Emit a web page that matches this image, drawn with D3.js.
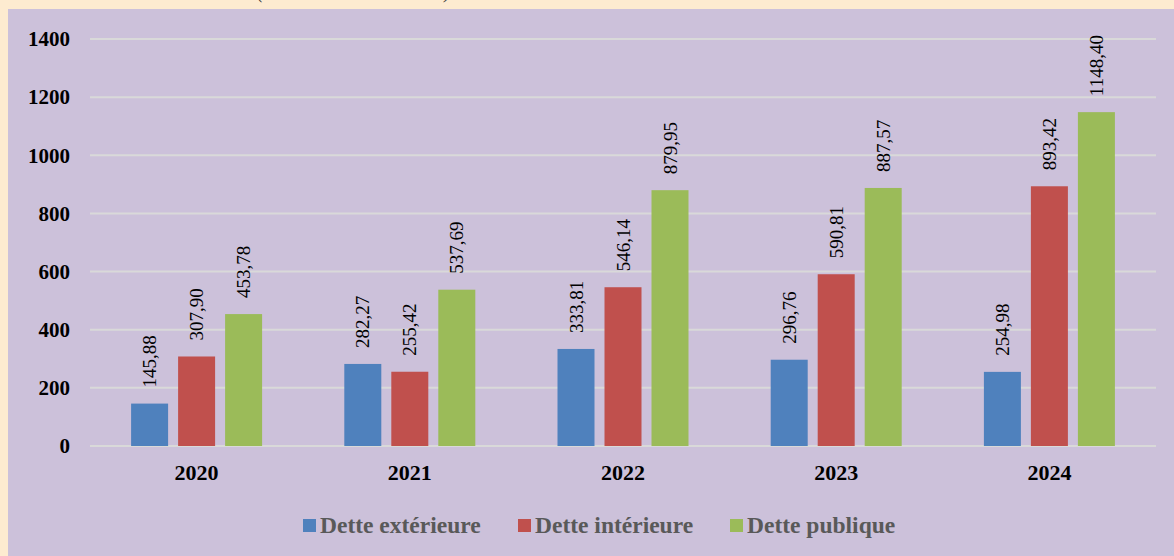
<!DOCTYPE html>
<html>
<head>
<meta charset="utf-8">
<script src="https://cdn.jsdelivr.net/npm/d3@7"></script>
<style>
  html, body { margin: 0; padding: 0; background: #FDEBD0; }
  svg { display: block; }
</style>
</head>
<body>
<svg id="chart" width="1174" height="556"></svg>
<script>
// Data
var years = ['2020', '2021', '2022', '2023', '2024'];
var seriesNames = ['Dette extérieure', 'Dette intérieure', 'Dette publique'];
var exterieure = [145.88, 282.27, 333.81, 296.76, 254.98];
var interieure = [307.90, 255.42, 546.14, 590.81, 893.42];
var publique = [453.78, 537.69, 879.95, 887.57, 1148.40];
var yTicks = [0, 200, 400, 600, 800, 1000, 1200, 1400];

var colors = ['#4F81BD', '#C0504D', '#9BBB59'];
var serif = '"Liberation Serif", "Times New Roman", serif';

var width = 1174;
var height = 556;
var svg = d3.select('#chart');

// Beige page, purple chart area
svg.append('rect')
    .attr('width', width).attr('height', height)
    .attr('fill', '#FDEBD0');

// Caption cut off at the top of the picture
svg.append('text')
    .attr('x', 257).attr('y', -2)
    .attr('textLength', 194)
    .attr('font-family', serif)
    .attr('font-style', 'italic')
    .attr('font-size', 20)
    .attr('fill', '#404040')
    .text('(en milliards de FCFA)');

svg.append('rect')
    .attr('x', 8).attr('y', 9)
    .attr('width', width - 8).attr('height', height - 9)
    .attr('fill', '#CCC1DA');

var plot = {left: 90, right: 1156, top: 39, bottom: 446};

var x0 = d3.scaleBand()
    .domain(years)
    .range([plot.left, plot.right]);

// Three bars 37px wide with 10px gaps, centred in each band
var groupWidth = 131;
var x1 = d3.scaleBand()
    .domain(d3.range(seriesNames.length))
    .range([0, groupWidth])
    .paddingInner(10 / 47);

var y = d3.scaleLinear()
    .domain([0, 1400])
    .range([plot.bottom, plot.top]);

// Gridlines
svg.append('g')
    .selectAll('line')
    .data(yTicks)
    .join('line')
    .attr('x1', plot.left)
    .attr('x2', plot.right)
    .attr('y1', d => y(d))
    .attr('y2', d => y(d))
    .attr('stroke', '#D9D9D9')
    .attr('stroke-width', 2);

// Y axis labels
var yAxis = d3.axisLeft(y).tickValues(yTicks).tickFormat(d3.format('d'))
    .tickSize(0).tickPadding(0);
var yAxisG = svg.append('g')
    .attr('transform', 'translate(70,0)')
    .call(yAxis);
yAxisG.select('.domain').remove();
yAxisG.selectAll('text')
    .attr('font-family', serif)
    .attr('font-weight', 'bold')
    .attr('font-size', 21)
    .attr('fill', '#000');

// X axis labels
var xAxis = d3.axisBottom(x0).tickSize(0).tickPadding(0);
var xAxisG = svg.append('g')
    .attr('transform', 'translate(0,' + 464 + ')')
    .call(xAxis);
xAxisG.select('.domain').remove();
xAxisG.selectAll('text')
    .attr('font-family', serif)
    .attr('font-weight', 'bold')
    .attr('font-size', 22)
    .attr('fill', '#000');

var allSeries = [exterieure, interieure, publique];
var rows = [];
years.forEach(function(year, i) {
    allSeries.forEach(function(values, s) {
        rows.push({year: year, s: s, value: values[i]});
    });
});

function barX(d) {
    return x0(d.year) + (x0.bandwidth() - groupWidth) / 2 + x1(d.s);
}

svg.append('g')
    .selectAll('rect')
    .data(rows)
    .join('rect')
    .attr('x', barX)
    .attr('y', d => y(d.value))
    .attr('width', x1.bandwidth())
    .attr('height', d => y(0) - y(d.value))
    .attr('fill', d => colors[d.s]);

// Rotated value labels
var fmt = function(v) { return d3.format('.2f')(v).replace('.', ','); };
svg.append('g')
    .selectAll('text')
    .data(rows)
    .join('text')
    .attr('transform', function(d) {
        var cx = barX(d) + x1.bandwidth() / 2;
        var cy = y(d.value) - 16;
        return 'translate(' + cx + ',' + cy + ') rotate(-90)';
    })
    .attr('dy', '0.35em')
    .attr('font-family', serif)
    .attr('font-size', 19)
    .attr('fill', '#000')
    .text(d => fmt(d.value));

// Legend
var legendX = [303, 518, 730];
var legend = svg.append('g')
    .selectAll('g')
    .data(seriesNames)
    .join('g')
    .attr('transform', (d, i) => 'translate(' + legendX[i] + ',519)');
legend.append('rect')
    .attr('width', 13).attr('height', 13)
    .attr('fill', (d, i) => colors[i]);
legend.append('text')
    .attr('x', 17).attr('y', 14)
    .attr('font-family', serif)
    .attr('font-weight', 'bold')
    .attr('font-size', 23.5)
    .attr('fill', '#595959')
    .text(d => d);
</script>
</body>
</html>
